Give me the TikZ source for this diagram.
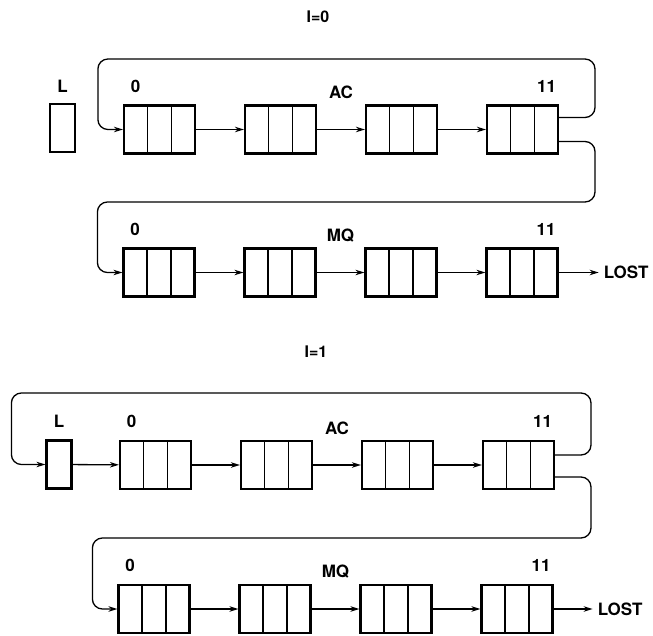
\documentclass[tikz,border=0pt]{standalone}
\usepackage{fontspec}
\setmainfont{TeX Gyre Heros}
\usetikzlibrary{arrows.meta,calc}

\begin{document}
\begin{tikzpicture}[x=1pt,y=-1pt,>={Stealth[length=9pt,width=5.5pt]},node distance=121pt,
  reg/.style={draw,line width=2.2pt,minimum width=71pt,minimum height=48pt,inner sep=0pt,
    path picture={\foreach \k in {1,2}
      \draw[line width=1.6pt] ([xshift=\k*23.67pt]path picture bounding box.north west) -- ([xshift=\k*23.67pt]path picture bounding box.south west);}},
  cell/.style={draw,line width=2.2pt,minimum width=25pt,minimum height=48pt,inner sep=0pt},
  tag/.style={font=\fontsize{17}{19}\selectfont\bfseries,inner sep=1pt},
  head/.style={font=\fontsize{16}{18}\selectfont\bfseries,inner sep=1pt},
  link/.style={->,line width=1.3pt,rounded corners=10pt}]
\useasboundingbox (0,0) rectangle (653,636);

% I=0
\node[head] (t0) at (318,17) {I=0};
\node[cell] (la) at (62.5,128) {};
\node[reg] (a1) at (159.5,129.5) {};
\node[reg] (a2) [right of=a1] {};
\node[reg] (a3) [right of=a2] {};
\node[reg] (a4) [right of=a3] {};
\node[reg] (b1) at (159,272.5) {};
\node[reg] (b2) [right of=b1] {};
\node[reg] (b3) [right of=b2] {};
\node[reg] (b4) [right of=b3] {};
\node[tag,anchor=west] (lost0) at ([xshift=44pt]b4.east) {LOST};

\node[tag] at ([yshift=17pt]la.north) {L};
\node[tag] at ([xshift=-24pt,yshift=18pt]a1.north) {0};
\node[tag] at ($(a2.north)!0.5!(a3.north)+(0,-12)$) {AC};
\node[tag] at ([xshift=24pt,yshift=18pt]a4.north) {11};
\node[tag] at ([xshift=-24pt,yshift=18pt]b1.north) {0};
\node[tag] at ($(b2.north)!0.5!(b3.north)+(0,-12)$) {MQ};
\node[tag] at ([xshift=24pt,yshift=18pt]b4.north) {11};

\draw[link] (a1) -- (a2);
\draw[link] (a2) -- (a3);
\draw[link] (a3) -- (a4);
\draw[link] (b1) -- (b2);
\draw[link] (b2) -- (b3);
\draw[link] (b3) -- (b4);
\draw[link,shorten >=4pt] (b4) -- (lost0);
\draw[link] ([yshift=12pt]a4.east) -| (595,59) -| ([xshift=-25pt]a1.west) -- (a1.west);
\draw[link] ([yshift=-12pt]a4.east) -| (595,202) -| ([xshift=-25pt]b1.west) -- (b1.west);

% I=1
\node[head] (t1) at (316,352) {I=1};
\node[cell] (lb) at (59,464.5) {};
\node[reg] (c1) at (155.5,465) {};
\node[reg] (c2) [right of=c1] {};
\node[reg] (c3) [right of=c2] {};
\node[reg] (c4) [right of=c3] {};
\node[reg] (d1) at (154,609) {};
\node[reg] (d2) [right of=d1] {};
\node[reg] (d3) [right of=d2] {};
\node[reg] (d4) [right of=d3] {};
\node[tag,anchor=west] (lost1) at ([xshift=43pt]d4.east) {LOST};

\node[tag] at ([yshift=18pt]lb.north) {L};
\node[tag] at ([xshift=-24pt,yshift=18pt]c1.north) {0};
\node[tag] at ($(c2.north)!0.5!(c3.north)+(0,-12)$) {AC};
\node[tag] at ([xshift=24pt,yshift=18pt]c4.north) {11};
\node[tag] at ([xshift=-24pt,yshift=18pt]d1.north) {0};
\node[tag] at ($(d2.north)!0.5!(d3.north)+(0,-12)$) {MQ};
\node[tag] at ([xshift=24pt,yshift=18pt]d4.north) {11};

\draw[link] (lb) -- (c1);
\draw[link] (c1) -- (c2);
\draw[link] (c2) -- (c3);
\draw[link] (c3) -- (c4);
\draw[link] (d1) -- (d2);
\draw[link] (d2) -- (d3);
\draw[link] (d3) -- (d4);
\draw[link,shorten >=4pt] (d4) -- (lost1);
\draw[link] ([yshift=10pt]c4.east) -| (591,393) -| ([xshift=-34pt]lb.west) -- (lb.west);
\draw[link] ([yshift=-12pt]c4.east) -| (591,538) -| ([xshift=-25pt]d1.west) -- (d1.west);
\end{tikzpicture}
\end{document}
